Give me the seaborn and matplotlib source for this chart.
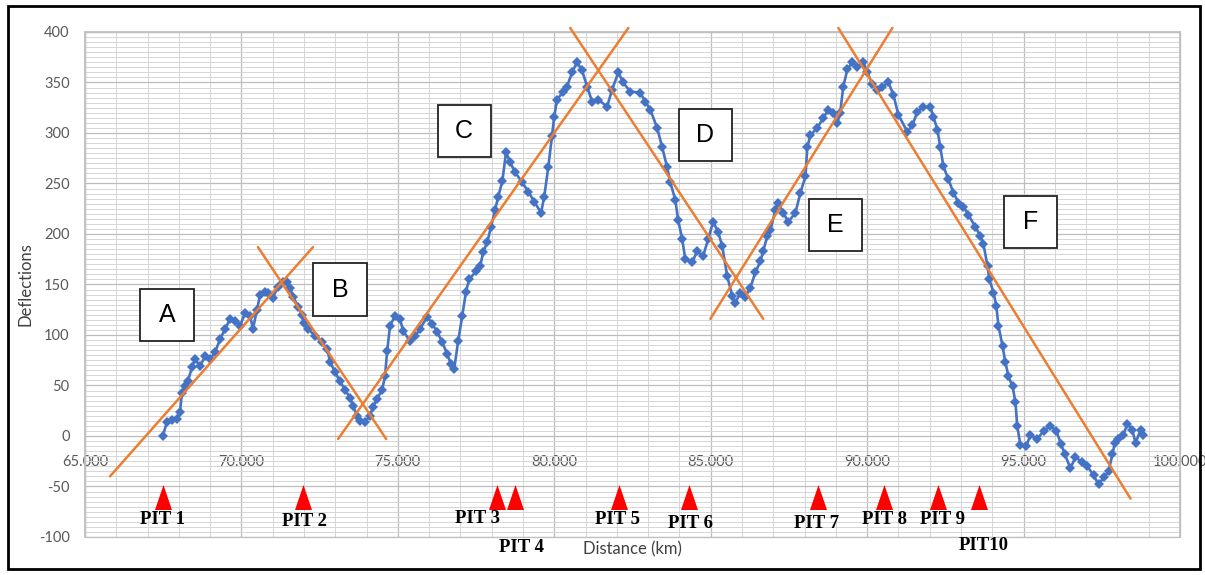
import matplotlib
matplotlib.use("Agg")
import matplotlib.pyplot as plt
from matplotlib.patches import Rectangle
from matplotlib.ticker import MultipleLocator
import numpy as np
import pandas as pd
import seaborn as sns

# Deflection profile
distance_km = [
    67.49, 67.62, 67.78, 67.94, 68.04, 68.10, 68.20, 68.29, 68.42, 68.52,
    68.68, 68.84, 69.00, 69.16, 69.32, 69.48, 69.64, 69.80, 69.96, 70.12,
    70.28, 70.37, 70.50, 70.60, 70.76, 70.85, 71.01, 71.17, 71.33, 71.46,
    71.56, 71.65, 71.81, 71.94, 71.99, 72.13, 72.36, 72.58, 72.74, 72.84,
    73.00, 73.15, 73.31, 73.47, 73.57, 73.70, 73.79, 73.95, 74.11, 74.21,
    74.34, 74.50, 74.59, 74.66, 74.75, 74.91, 75.07, 75.17, 75.39, 75.55,
    75.71, 75.94, 76.10, 76.26, 76.42, 76.58, 76.70, 76.80, 76.93, 77.06,
    77.18, 77.28, 77.50, 77.63, 77.73, 77.86, 77.98, 78.11, 78.21, 78.34,
    78.46, 78.59, 78.75, 78.98, 79.17, 79.36, 79.58, 79.68, 79.81, 79.93,
    80.00, 80.09, 80.29, 80.41, 80.57, 80.73, 80.89, 81.05, 81.21, 81.41,
    81.69, 81.85, 82.05, 82.20, 82.43, 82.75, 82.91, 83.07, 83.29, 83.45,
    83.61, 83.71, 83.87, 83.96, 84.09, 84.19, 84.41, 84.57, 84.76, 84.92,
    85.08, 85.24, 85.37, 85.53, 85.69, 85.79, 85.95, 86.11, 86.27, 86.43,
    86.59, 86.68, 86.81, 86.91, 87.07, 87.16, 87.32, 87.48, 87.71, 87.87,
    88.03, 88.09, 88.19, 88.41, 88.60, 88.76, 88.92, 89.05, 89.14, 89.24,
    89.37, 89.53, 89.69, 89.88, 90.01, 90.17, 90.33, 90.49, 90.68, 90.84,
    91.00, 91.29, 91.45, 91.61, 91.80, 92.02, 92.12, 92.25, 92.34, 92.44,
    92.60, 92.76, 92.92, 93.08, 93.24, 93.46, 93.62, 93.72, 93.85, 93.91,
    94.04, 94.13, 94.20, 94.33, 94.42, 94.52, 94.65, 94.74, 94.80, 94.90,
    95.09, 95.22, 95.44, 95.64, 95.86, 96.05, 96.20, 96.32, 96.50, 96.66,
    96.88, 97.04, 97.24, 97.40, 97.56, 97.72, 97.84, 97.92, 98.03, 98.19,
    98.32, 98.48, 98.58, 98.74, 98.83,
]
deflection = [
    0, 14, 16, 17, 24, 43, 49, 54, 68, 76,
    69, 79, 76, 83, 96, 106, 116, 114, 109, 122,
    119, 106, 125, 140, 143, 142, 137, 148, 152, 152,
    147, 138, 128, 120, 112, 106, 99, 93, 86, 73,
    63, 54, 46, 38, 30, 20, 15, 14, 20, 29,
    37, 46, 59, 84, 109, 119, 116, 104, 94, 99,
    106, 118, 111, 103, 93, 81, 71, 66, 94, 119,
    143, 155, 163, 168, 182, 192, 207, 224, 237, 252,
    281, 271, 261, 251, 242, 232, 221, 237, 266, 297,
    316, 333, 341, 346, 360, 370, 362, 346, 331, 333,
    326, 343, 360, 350, 341, 340, 331, 323, 305, 286,
    266, 251, 234, 214, 195, 175, 172, 183, 178, 195,
    212, 202, 188, 158, 139, 132, 142, 138, 147, 162,
    173, 183, 198, 204, 224, 231, 221, 212, 221, 241,
    257, 286, 298, 305, 315, 323, 320, 310, 320, 346,
    363, 370, 365, 370, 360, 348, 343, 346, 350, 338,
    318, 301, 308, 321, 326, 326, 316, 303, 286, 267,
    254, 241, 231, 227, 219, 207, 198, 190, 168, 155,
    142, 129, 109, 89, 73, 59, 49, 34, 10, -9,
    -10, 1, -3, 5, 10, 5, -8, -18, -32, -21,
    -26, -30, -39, -48, -41, -35, -18, -7, -3, 1,
    12, 6, -7, 6, 1,
]

# Orange trend lines (start, end)
trend_km = [(65.80, 72.29), (70.53, 74.63), (73.09, 82.37),
            (80.51, 86.68), (84.99, 90.81), (89.08, 98.42)]
trend_defl = [(-40, 187), (187, -3), (-3, 404),
              (404, 116), (116, 404), (404, -62)]

# Section boxes
section_names = ["A", "B", "C", "D", "E", "F"]
section_km = [67.62, 73.15, 77.12, 84.83, 88.98, 95.22]
section_defl = [120, 145, 302, 298, 209, 212]

# Test pits
pit_names = ["PIT 1", "PIT 2", "PIT 3", "PIT 4", "PIT 5",
             "PIT 6", "PIT 7", "PIT 8", "PIT 9", "PIT10"]
pit_km = [67.49, 71.97, 78.18, 78.75, 82.08, 84.32, 88.44, 90.55, 92.28, 93.59]
pit_label_km = [67.49, 72.03, 77.55, 78.94, 82.02, 84.35, 88.38, 90.55, 92.40, 93.72]
pit_label_defl = [-83, -85, -82, -110, -83, -87, -87, -83, -83, -108]

x_ticks = [65, 70, 75, 80, 85, 90, 95, 100]

df = pd.DataFrame({"Distance": distance_km, "Deflections": deflection})

sns.set_theme(style="white")
plt.rcParams["font.family"] = ["Lato", "DejaVu Sans"]
plt.rcParams["axes.unicode_minus"] = False

fig = plt.figure(figsize=(12.05, 5.75), dpi=100)
ax = fig.add_axes([0.0705, 0.0661, 0.9087, 0.8783])

# main profile
sns.lineplot(data=df, x="Distance", y="Deflections", ax=ax, sort=False,
             estimator=None, errorbar=None, color="#4472C4", linewidth=1.9,
             marker="D", markersize=5.5, markeredgewidth=0, zorder=3)

# trend lines
for (x0, x1), (y0, y1) in zip(trend_km, trend_defl):
    ax.plot([x0, x1], [y0, y1], color="#ED7D31", linewidth=1.8, zorder=4,
            clip_on=False)

# section boxes
box_w, box_h = 1.7, 52
for name, xc, yc in zip(section_names, section_km, section_defl):
    ax.add_patch(Rectangle((xc - box_w / 2, yc - box_h / 2), box_w, box_h,
                           facecolor="white", edgecolor="#222222",
                           linewidth=1.3, zorder=5))
    ax.text(xc, yc, name, ha="center", va="center", fontsize=18,
            family="Liberation Sans", color="black", zorder=6)

# pits
tri = [(0, 1), (-0.68, -1), (0.68, -1), (0, 1)]
ax.plot(pit_km, [-60] * len(pit_km), linestyle="none", marker=tri,
        markersize=18, color="#FF0000", markeredgewidth=0, zorder=5)
for name, xl, yl in zip(pit_names, pit_label_km, pit_label_defl):
    ax.text(xl, yl, name, ha="center", va="center", fontsize=13.5,
            family="Liberation Serif", fontweight="bold", color="black",
            clip_on=False, zorder=6)

# axes and grid
ax.set_xlim(65, 100)
ax.set_ylim(-100, 400)
ax.set_xticks(x_ticks)
ax.set_xticklabels([f"{v:.3f}" for v in x_ticks])
ax.yaxis.set_major_locator(MultipleLocator(50))
ax.xaxis.set_minor_locator(MultipleLocator(1))
ax.yaxis.set_minor_locator(MultipleLocator(5))
ax.grid(which="major", color="#BDBDBD", linewidth=0.9)
ax.grid(which="minor", color="#D6D6D6", linewidth=0.7)
ax.set_axisbelow(True)

ax.spines["bottom"].set_position(("data", 0))
ax.spines["bottom"].set_color("none")
for s in ["left", "right", "top"]:
    ax.spines[s].set_color("#BFBFBF")
ax.add_patch(Rectangle((0, 0), 1, 1, transform=ax.transAxes, fill=False,
                       edgecolor="#BFBFBF", linewidth=0.9, clip_on=False))

ax.tick_params(axis="x", which="both", length=0, pad=14, labelsize=10.5,
               labelcolor="#595959")
ax.tick_params(axis="y", which="both", length=0, pad=11, labelsize=10.5,
               labelcolor="#595959")

ax.set_xlabel("Distance (km)", fontsize=12, color="#404040")
ax.xaxis.set_label_coords(0.5, -0.008)
ax.set_ylabel("Deflections", fontsize=12, color="#404040")
ax.yaxis.set_label_coords(-0.047, 0.5)

# outer frame
fig.patches.append(Rectangle((8 / 1205, 6 / 575), 1192 / 1205, 563 / 575,
                             transform=fig.transFigure, fill=False,
                             edgecolor="black", linewidth=2))

fig.savefig("out.png", dpi=100)
